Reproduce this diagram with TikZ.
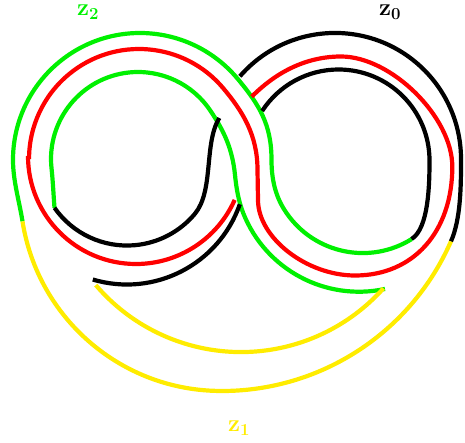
\documentclass[tikz,border=0pt]{standalone}
\usepackage{fix-cm}
\definecolor{kgreen}{RGB}{0,240,0}
\definecolor{kred}{RGB}{255,0,0}
\definecolor{kyellow}{RGB}{255,236,0}
\begin{document}
\begin{tikzpicture}[x=1pt,y=-1pt,
  strand/.style={line width=4.2pt},
  lbl/.style={font=\fontsize{24}{28}\selectfont, inner sep=0pt, anchor=base west}]
\useasboundingbox (0,0) rectangle (465,443);
% green: outer left -> S (over) -> inner right bottom
\draw[strand, kgreen] (22.5,221.4) .. controls (19.4,201.6) and (13,181) .. (13,160)
  arc[start angle=180, end angle=320, radius=127]
  .. controls (259.8,105.2) and (271.5,125) .. (271.5,160)
  .. controls (271.5,185) and (278.1,201) .. (286.7,213.3)
  arc[start angle=145.2, end angle=58.1, radius=92.6];
% green: inner left -> S (over) -> outer right bottom
\draw[strand, kgreen] (54.5,207.8) .. controls (53.5,195) and (52.9,180.9) .. (51.5,168.1)
  arc[start angle=174, end angle=326.7, radius=87]
  .. controls (224.7,131.9) and (232.5,150) .. (235,175)
  .. controls (236.3,188) and (238.5,201.2) .. (243.3,213.3)
  arc[start angle=158.3, end angle=77.9, radius=124.4];
% red strand
\draw[strand, kred] (251.7,96.7) .. controls (265.8,82.6) and (296,56.5) .. (341,56.5)
  .. controls (391,56.5) and (452.3,116.7) .. (452.3,166.7)
  .. controls (452.3,232.1) and (413.2,275.5) .. (355,275.5)
  .. controls (306.5,275.5) and (258,237.75) .. (258,200)
  -- (257.5,170)
  .. controls (257.5,135) and (242.6,111.3) .. (223.3,88.3)
  arc[start angle=320, end angle=180, radius=110];
\draw[strand, kred] (28,156) arc[start angle=180, end angle=24, radius=108];
% black: left inner bottom, passing under
\draw[strand, black] (54.5,207.8) arc[start angle=145, end angle=40, radius=88.5]
  .. controls (214.1,190.9) and (203.7,143.5) .. (219.3,118);
% black: right outer
\draw[strand, black] (239.9,76.3) arc[start angle=221, end angle=360, radius=126]
  .. controls (461,185) and (461,218.6) .. (450.9,241.5);
% black: right inner
\draw[strand, black] (411.6,239) .. controls (428.6,228.4) and (429.5,185) .. (429.5,160.5)
  arc[start angle=0, end angle=-147, radius=91];
% black: left outer bottom
\draw[strand, black] (239.8,204.3) arc[start angle=19.2, end angle=106.6, radius=119.5];
% yellow arcs
\draw[strand, kyellow] (22.5,221.4) arc[start angle=171, end angle=90, radius=201]
  -- (222,391) arc[start angle=90, end angle=23.7, radius=250];
\draw[strand, kyellow] (95.8,285.1) arc[start angle=139.5, end angle=41.8, radius=191];
% labels
\node[lbl, text=kgreen] (z2) at (77,15.5) {$\mathbf{z_2}$};
\node[lbl, text=black] (z0) at (379,15.5) {$\mathbf{z_0}$};
\node[lbl, text=kyellow] (z1) at (228,431.5) {$\mathbf{z_1}$};
\end{tikzpicture}
\end{document}
